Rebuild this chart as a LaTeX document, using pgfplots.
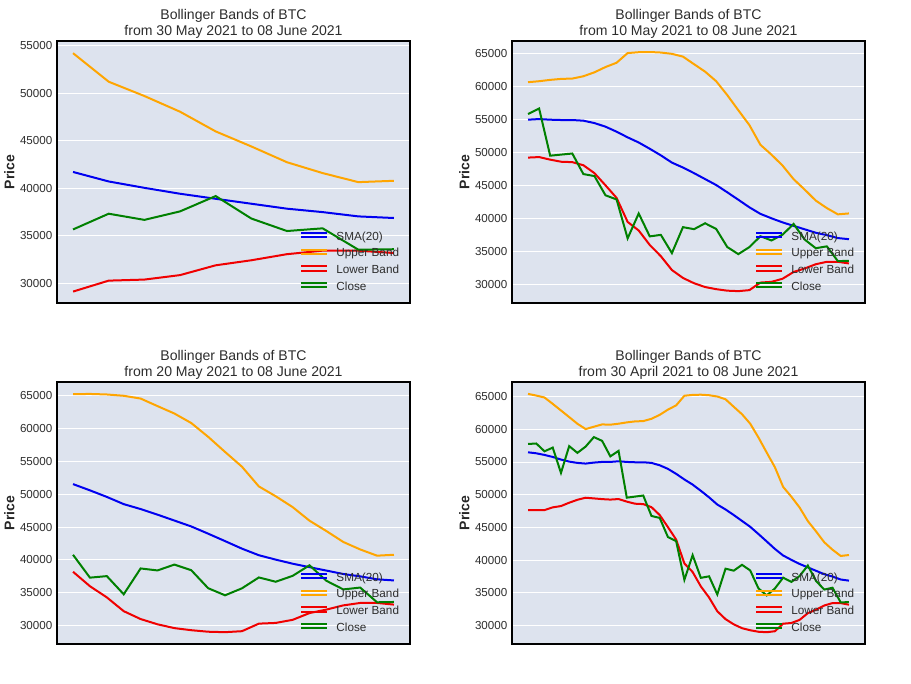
\documentclass[border=0pt]{standalone}
\usepackage{pgfplots}
\pgfplotsset{compat=1.18}
\usepackage{pgfplotstable}
\usepackage{fontspec}
\setmainfont{Liberation Sans}
\definecolor{bg}{RGB}{221,227,238}
\definecolor{txt}{RGB}{45,45,45}
\definecolor{cblue}{RGB}{0,0,240}
\definecolor{corange}{RGB}{255,165,0}
\definecolor{cred}{RGB}{240,0,0}
\definecolor{cgreen}{RGB}{0,128,0}

\pgfplotstableread{
i close sma upper lower
0 57750 56480 65400 47660
1 57828 56330 65150 47660
2 56631 56080 64850 47660
3 57200 55770 63880 48070
4 53333 55370 62870 48270
5 57424 55060 61860 48780
6 56396 54860 60840 49230
7 57356 54760 60030 49540
8 58803 54910 60390 49440
9 58232 55010 60740 49330
10 55860 55010 60700 49260
11 56704 55110 60850 49340
12 49550 55010 61050 48950
13 49716 54960 61200 48630
14 49880 54960 61250 48570
15 46760 54860 61600 48100
16 46456 54500 62200 46900
17 43538 53950 63000 45050
18 42910 53190 63650 43150
19 37002 52330 65120 39500
20 40782 51550 65250 38200
21 37304 50600 65280 36000
22 37537 49600 65200 34300
23 34770 48500 65000 32200
24 38705 47750 64580 31000
25 38402 46900 63430 30200
26 39294 46000 62300 29620
27 38436 45100 60850 29300
28 35697 44000 58750 29070
29 34616 42870 56450 29000
30 35678 41720 54200 29150
31 37332 40720 51200 30300
32 36684 40050 49700 30410
33 37575 39430 48050 30880
34 39187 38900 45980 31910
35 36825 38380 44400 32440
36 35513 37860 42740 33080
37 35796 37500 41600 33450
38 33552 37050 40650 33450
39 33600 36880 40790 33200
}\btc

\pgfplotsset{
  bbstyle/.style={
    scale only axis, width=264.75pt, height=196.5pt, anchor=north west,
    axis background/.style={fill=bg},
    axis line style={black, line width=1.2pt},
    xtick=\empty, ytick distance=5000, major tick length=0pt,
    ymajorgrids, major grid style={white, line width=0.75pt},
    scaled y ticks=false,
    /pgf/number format/assume math mode=true,
    yticklabel style={font=\fontsize{8.7}{10}\selectfont, text=txt,
      /pgf/number format/fixed, /pgf/number format/precision=0,
      /pgf/number format/1000 sep={}},
    ylabel={Price},
    ylabel style={font=\fontsize{10.5}{12}\selectfont\bfseries, text=black!85,
      at={(axis description cs:-0.135,0.5)}, anchor=center, rotate=0},
    title style={font=\fontsize{10.55}{12}\selectfont, text=txt, align=center,
      at={(0.5,1)}, anchor=south, inner sep=0pt, yshift=-3.9pt},
    legend style={at={(1,0)}, anchor=south east, xshift=-8pt, yshift=7.5pt,
      draw=none, fill=none, inner sep=0pt,
      font=\fontsize{8.8}{10}\selectfont, text=txt,
      row sep=3.9pt, column sep=6.5pt,
      nodes={inner sep=0pt, text height=6.5pt, text depth=2pt}},
    legend cell align=left,
    legend image code/.code={\path (0pt,0pt) -- (19.2pt,0pt);
      \draw[##1] (0pt,3.3pt) -- (19.2pt,3.3pt);},
    every axis plot/.append style={line width=1.5pt, mark=none},
  }
}

\newcommand\panel[7]{%
\pgfmathsetmacro\xlo{-0.05*(#4-1)}%
\pgfmathsetmacro\xhi{1.05*(#4-1)}%
\begin{axis}[bbstyle, at={(#1,#2)}, xmin=\xlo, xmax=\xhi, ymin=#5, ymax=#6,
  title={Bollinger Bands of BTC\\from #7 to 08 June 2021}]
\addplot[cblue, skip coords between index={0}{#3}] table[x expr=\thisrow{i}-#3, y=sma]{\btc};
\addlegendentry{SMA(20)}
\addplot[corange, skip coords between index={0}{#3}] table[x expr=\thisrow{i}-#3, y=upper]{\btc};
\addlegendentry{Upper Band}
\addplot[cred, skip coords between index={0}{#3}] table[x expr=\thisrow{i}-#3, y=lower]{\btc};
\addlegendentry{Lower Band}
\addplot[cgreen, skip coords between index={0}{#3}] table[x expr=\thisrow{i}-#3, y=close]{\btc};
\addlegendentry{Close}
\end{axis}}

\begin{document}
\begin{tikzpicture}
\useasboundingbox (0,0) rectangle (683.25pt,512.25pt);
\panel{42.75pt}{481.5pt}{30}{10}{27950}{55480}{30 May 2021}
\panel{384pt}{481.5pt}{10}{30}{27200}{66950}{10 May 2021}
\panel{42.75pt}{225.75pt}{20}{20}{27200}{67100}{20 May 2021}
\panel{384pt}{225.75pt}{0}{40}{27200}{67220}{30 April 2021}
\end{tikzpicture}
\end{document}
